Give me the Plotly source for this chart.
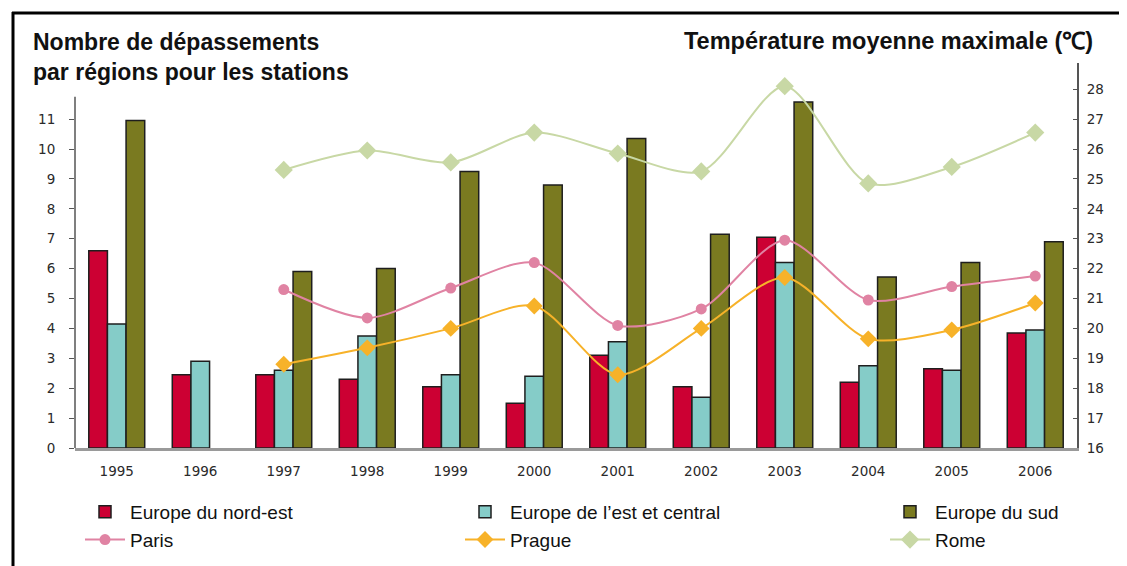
import plotly.graph_objects as go

years = ["1995", "1996", "1997", "1998", "1999", "2000", "2001", "2002", "2003", "2004", "2005", "2006"]
nord_est = [6.6, 2.45, 2.45, 2.3, 2.05, 1.5, 3.1, 2.05, 7.05, 2.2, 2.65, 3.85]
est_central = [4.15, 2.9, 2.6, 3.75, 2.45, 2.4, 3.55, 1.7, 6.2, 2.75, 2.6, 3.95]
sud = [10.95, None, 5.9, 6.0, 9.25, 8.8, 10.35, 7.15, 11.57, 5.72, 6.2, 6.9]
paris = [None, None, 21.3, 20.35, 21.35, 22.2, 20.1, 20.65, 22.95, 20.95, 21.4, 21.75]
prague = [None, None, 18.8, 19.35, 20.0, 20.75, 18.45, 20.0, 21.7, 19.65, 19.95, 20.85]
rome = [None, None, 25.3, 25.95, 25.55, 26.55, 25.85, 25.25, 28.1, 24.85, 25.4, 26.55]

left_ticks = list(range(0, 12))
right_ticks = list(range(16, 29))

# page body has an 8px margin, so the figure is laid out 8px smaller
W, H = 1119, 558
ml, mr, mt, mb = 67, 50, 55, 118
PW, PH = W - ml - mr, H - mt - mb


def px_x(x):
    return (x - ml) / PW


def px_y(y):
    return (H - mb - y) / PH


fig = go.Figure()
bar_line = dict(color="#1e1e1e", width=1.5)
fig.add_trace(go.Bar(x=years, y=nord_est, name="Europe du nord-est", legend="legend",
                     marker=dict(color="#CC0033", line=bar_line)))
fig.add_trace(go.Bar(x=years, y=est_central, name="Europe de l’est et central", legend="legend2",
                     marker=dict(color="#85CCC8", line=bar_line)))
fig.add_trace(go.Bar(x=years, y=sud, name="Europe du sud", legend="legend3",
                     marker=dict(color="#7A7A20", line=bar_line)))
fig.add_trace(go.Scatter(x=years, y=paris, name="Paris", yaxis="y2", mode="lines+markers",
                         legend="legend",
                         line=dict(color="#E083A3", width=2, shape="spline", smoothing=0.8),
                         marker=dict(symbol="circle", size=11, color="#E083A3")))
fig.add_trace(go.Scatter(x=years, y=prague, name="Prague", yaxis="y2", mode="lines+markers",
                         legend="legend2",
                         line=dict(color="#F7B229", width=2, shape="spline", smoothing=0.8),
                         marker=dict(symbol="diamond", size=13, color="#F7B229")))
fig.add_trace(go.Scatter(x=years, y=rome, name="Rome", yaxis="y2", mode="lines+markers",
                         legend="legend3",
                         line=dict(color="#C8D8A5", width=2, shape="spline", smoothing=0.8),
                         marker=dict(symbol="diamond", size=14, color="#C8D8A5")))

tickfont = dict(family="DejaVu Sans", size=13.5, color="#2a2a2a")
top_left = PH / 29.9

legend_common = dict(orientation="v", xanchor="left", yanchor="top",
                     xref="container", yref="container", traceorder="normal",
                     font=dict(family="Liberation Sans", size=19, color="#111"),
                     itemwidth=40, bgcolor="rgba(0,0,0,0)")
leg_top = 1 - 485 / H

fig.update_layout(
    width=W, height=H,
    margin=dict(l=ml, r=mr, t=mt, b=mb, autoexpand=False),
    paper_bgcolor="white", plot_bgcolor="white",
    barmode="group", bargap=0.33, bargroupgap=0,
    xaxis=dict(type="category", range=[-0.5, len(years) - 0.5], showline=True,
               linecolor="#9a9a9a", linewidth=3,
               showgrid=False, ticks="", tickfont=tickfont, ticklabelstandoff=9),
    yaxis=dict(range=[0, top_left], tickvals=left_ticks, showgrid=False, zeroline=False,
               showline=False, ticks="outside", ticklen=5, tickcolor="#555",
               tickfont=tickfont, ticklabelstandoff=11),
    yaxis2=dict(range=[16, 16 + top_left], tickvals=right_ticks, overlaying="y", side="right",
                showgrid=False, zeroline=False, showline=True, linecolor="#555", linewidth=2,
                ticks="inside", ticklen=4, tickcolor="#555", tickfont=tickfont,
                ticklabelstandoff=5),
    showlegend=True,
    legend=dict(x=72 / W, y=leg_top, **legend_common),
    legend2=dict(x=452 / W, y=leg_top, **legend_common),
    legend3=dict(x=877 / W, y=leg_top, **legend_common),
    font=dict(family="Liberation Sans"),
)

fig.add_annotation(text="<b>Nombre de dépassements<br>par régions pour les stations</b>",
                   xref="paper", yref="paper", x=px_x(23), y=px_y(19), xanchor="left", yanchor="top",
                   align="left", showarrow=False,
                   font=dict(family="Liberation Sans", size=23, color="#111"))
fig.add_annotation(text="<b>Température moyenne maximale (℃)</b>",
                   xref="paper", yref="paper", x=px_x(1087), y=px_y(18), xanchor="right", yanchor="top",
                   align="right", showarrow=False,
                   font=dict(family="Liberation Sans", size=23.5, color="#111"))

# left axis line (clipped at top as in original)
fig.add_shape(type="line", xref="x domain", yref="y", x0=0, x1=0, y0=0, y1=11.75,
              line=dict(color="#555", width=1.5))
# frame lines
fig.add_shape(type="line", xref="paper", yref="paper",
              x0=px_x(4), x1=px_x(W + 5), y0=px_y(5), y1=px_y(5),
              line=dict(color="black", width=3))
fig.add_shape(type="line", xref="paper", yref="paper",
              x0=px_x(5), x1=px_x(5), y0=px_y(4), y1=px_y(H + 5),
              line=dict(color="black", width=3))

fig.write_html("out.html")
